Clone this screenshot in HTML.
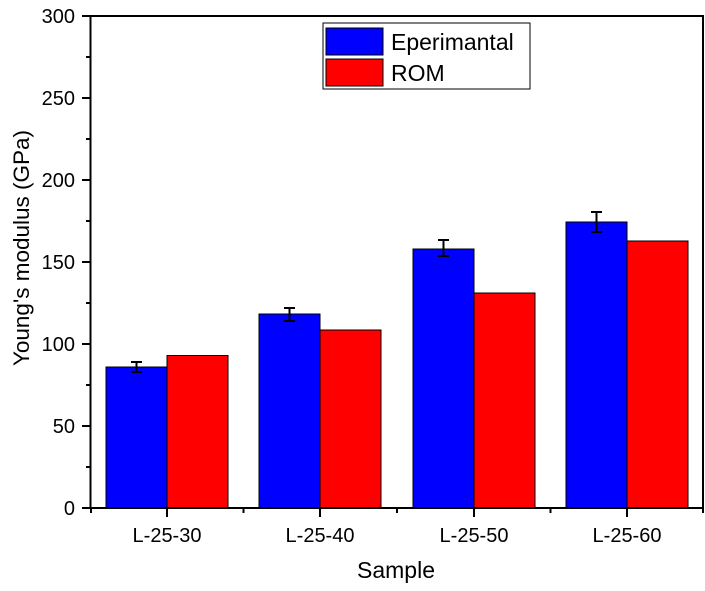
<!DOCTYPE html>
<html><head><meta charset="utf-8"><style>html,body{margin:0;padding:0;background:#fff}</style></head>
<body>
<svg width="705" height="586" xmlns="http://www.w3.org/2000/svg" font-family="Liberation Sans, Arial, sans-serif">
<g stroke="#000" stroke-width="1">
<rect x="106" y="367" width="61" height="141" fill="#0000ff"/>
<rect x="259" y="314" width="61" height="194" fill="#0000ff"/>
<rect x="413" y="249" width="61" height="259" fill="#0000ff"/>
<rect x="566" y="222" width="61" height="286" fill="#0000ff"/>
<rect x="167" y="355.5" width="61" height="152.5" fill="#ff0000"/>
<rect x="320" y="330" width="61" height="178" fill="#ff0000"/>
<rect x="474" y="293" width="61" height="215" fill="#ff0000"/>
<rect x="627" y="241" width="61" height="267" fill="#ff0000"/>
</g>
<g stroke="#000" stroke-width="2" fill="none">
<path d="M136.5 362v10M131 362h11M131 372h11"/>
<path d="M289.5 308v13M284 308h11M284 321h11"/>
<path d="M443.5 240v16M438 240h11M438 256h11"/>
<path d="M596.5 212v20M591 212h11M591 232h11"/>
<rect x="90.5" y="16" width="612.5" height="492" />
<path d="M82 16h9M82 98h9M82 180h9M82 262h9M82 344h9M82 426h9M82 508h9"/>
<path d="M86 57h5M86 139h5M86 221h5M86 303h5M86 385h5M86 467h5"/>
<path d="M167 508v9M320 508v9M474 508v9M627 508v9"/>
<path d="M91 508v5M243.5 508v5M397 508v5M550.5 508v5M703 508v5"/>
</g>
<g font-size="20" fill="#000" text-anchor="end">
<text x="75" y="23">300</text><text x="75" y="105">250</text><text x="75" y="187">200</text>
<text x="75" y="269">150</text><text x="75" y="351">100</text><text x="75" y="433">50</text><text x="75" y="515">0</text>
</g>
<g font-size="20" fill="#000" text-anchor="middle">
<text x="167" y="542">L-25-30</text><text x="320" y="542">L-25-40</text>
<text x="474" y="542">L-25-50</text><text x="627" y="542">L-25-60</text>
</g>
<text x="396" y="578" font-size="23" text-anchor="middle">Sample</text>
<text transform="translate(29,248) rotate(-90)" font-size="22.5" text-anchor="middle">Young's modulus (GPa)</text>
<rect x="323" y="23" width="207" height="66" fill="#fff" stroke="#000" stroke-width="1"/>
<rect x="326" y="28" width="57" height="27" fill="#0000ff" stroke="#000"/>
<rect x="326" y="59" width="57" height="27" fill="#ff0000" stroke="#000"/>
<text x="391" y="50" font-size="23">Eperimantal</text>
<text x="391" y="81" font-size="23">ROM</text>
</svg>
</body></html>
